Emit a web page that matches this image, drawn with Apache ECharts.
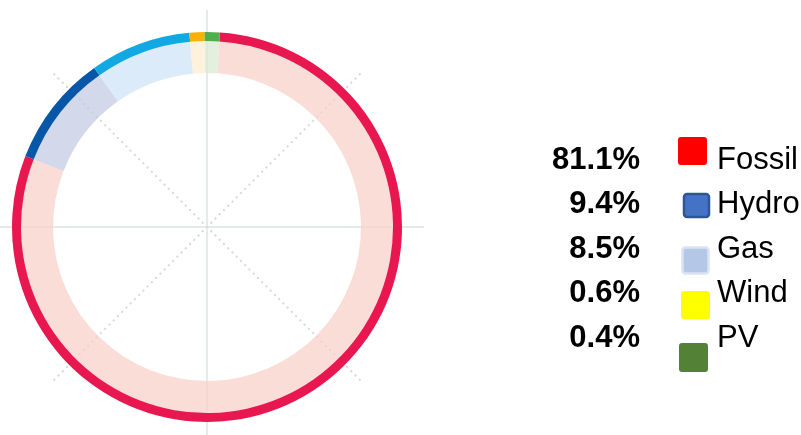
<!DOCTYPE html>
<html>
<head>
<meta charset="utf-8">
<script src="https://cdn.jsdelivr.net/npm/echarts@6/dist/echarts.min.js"></script>
<style>
html,body{margin:0;padding:0;background:#fff;}
#chart{width:801px;height:435px;}
</style>
</head>
<body>
<div id="chart"></div>
<script>
// ---- data ----
const categories = ['Fossil', 'Hydro', 'Gas', 'Wind', 'PV'];
const shares = [81.1, 9.4, 8.5, 0.6, 0.4];

// ---- styles ----
const ringColors = ['#E8174F', '#0757A8', '#12A8E3', '#F8B10A', '#4DAF4E'];
const paleColors = ['rgba(248,206,197,0.7)', 'rgba(192,201,226,0.7)', 'rgba(205,226,248,0.7)', 'rgba(254,236,205,0.7)', 'rgba(215,234,208,0.7)'];
const swatchFill = ['#FF0000', '#4472C4', '#B4C7E7', '#FFFF00', '#538135'];
const swatchStroke = [null, '#2F5597', '#DAE3F3', null, null];
const swatchBox = [[678,137,29,28],[684,194,25,23],[682.5,247.5,26,26],[681,291,29,28],[679,343,29,29]];
const rowMid = [160, 204, 249, 293, 338];

const chart = echarts.init(document.getElementById('chart'), null, {renderer: 'canvas'});

const pieData = (colors) => categories.map((c, i) => ({name: c, value: shares[i], itemStyle: {color: colors[i]}}));

const graphic = [];
categories.forEach((c, i) => {
  graphic.push({
    type: 'text', x: 640, y: rowMid[i],
    style: {text: shares[i].toFixed(1) + '%', align: 'right', verticalAlign: 'middle',
      font: 'bold 31px "Liberation Sans", Arial, sans-serif', fill: '#000'}
  });
  const b = swatchBox[i];
  graphic.push({
    type: 'rect', shape: {x: b[0], y: b[1], width: b[2], height: b[3], r: 3},
    style: {fill: swatchFill[i], stroke: swatchStroke[i] || null, lineWidth: swatchStroke[i] ? 2.5 : 0}
  });
  graphic.push({
    type: 'text', x: 717, y: rowMid[i],
    style: {text: c, align: 'left', verticalAlign: 'middle',
      font: '31px "Liberation Sans", Arial, sans-serif', fill: '#000'}
  });
});

const hiddenAngle = (start, lineStyle, idx) => ({
  polarIndex: idx, type: 'value', min: 0, max: 360, interval: 90, startAngle: start,
  axisLine: {show: false}, axisTick: {show: false}, axisLabel: {show: false},
  splitLine: {show: true, lineStyle: lineStyle}
});

chart.setOption({
  animation: false,
  polar: [
    {center: [207, 227], radius: 217},
    {center: [207, 227], radius: 217}
  ],
  angleAxis: [
    hiddenAngle(90, {color: '#E6EAEA', width: 2, type: 'solid'}, 0),
    hiddenAngle(45, {color: '#D6D9DA', width: 2, type: [2, 4]}, 1)
  ],
  radiusAxis: [
    {polarIndex: 0, show: false},
    {polarIndex: 1, show: false}
  ],
  series: [
    {
      type: 'pie', name: 'pale', center: [207, 227], radius: [154, 186.5],
      startAngle: 86.2, clockwise: true, minAngle: 4.5, silent: true,
      label: {show: false}, labelLine: {show: false}, emphasis: {disabled: true},
      data: pieData(paleColors)
    },
    {
      type: 'pie', name: 'ring', center: [207, 227], radius: [186, 195],
      startAngle: 86.2, clockwise: true, minAngle: 4.5, silent: true,
      label: {show: false}, labelLine: {show: false}, emphasis: {disabled: true},
      data: pieData(ringColors)
    }
  ],
  graphic: graphic
});
</script>
</body>
</html>
